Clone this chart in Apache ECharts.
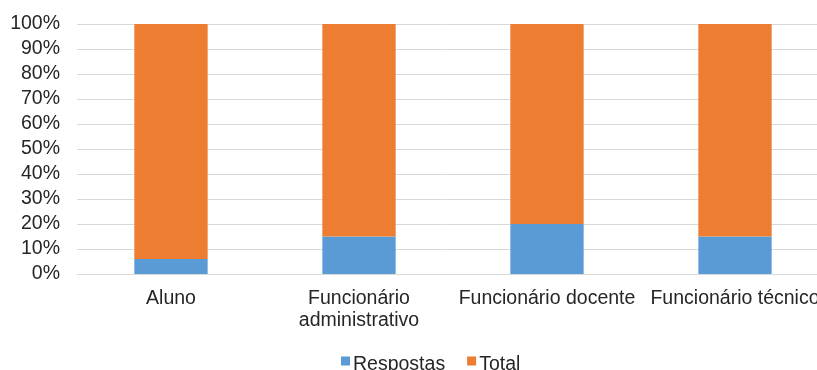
<!DOCTYPE html>
<html>
<head>
<meta charset="utf-8">
<script src="https://cdn.jsdelivr.net/npm/echarts@6/dist/echarts.min.js"></script>
<style>
  html, body { margin: 0; padding: 0; background: #ffffff; }
  #chart { width: 817px; height: 370px; }
</style>
</head>
<body>
<div id="chart"></div>
<script>
// Respondent groups and their share of answers (percent of each group's total)
const categories = ['Aluno', 'Funcionário\nadministrativo', 'Funcionário docente', 'Funcionário técnico'];
const respostas = [6, 15, 20, 15];
const total = [94, 85, 80, 85];
const yTicks = [0, 10, 20, 30, 40, 50, 60, 70, 80, 90, 100];

const chart = echarts.init(document.getElementById('chart'), null, { renderer: 'canvas' });
const font = 'Liberation Sans, Arial, sans-serif';
const textColor = '#262626';
const fontSize = 19.5;

// Square legend marker sitting in the upper part of a taller box,
// so it lines up with the middle of the capital letters.
const legendIcon = 'path://M0,0H9V9H0Z M0,17L0.01,17';

chart.setOption({
  animation: false,
  grid: {
    left: 77, top: 24, width: 752, height: 250,
    containLabel: false,
    outerBoundsMode: 'none'
  },
  legend: {
    top: 350,
    left: 336,
    itemWidth: 9,
    itemHeight: 17,
    itemGap: 22,
    icon: legendIcon,
    textStyle: { fontFamily: font, fontSize: fontSize, color: textColor, padding: [0, 0, 0, -2] },
    data: ['Respostas', 'Total']
  },
  xAxis: {
    type: 'category',
    data: categories,
    axisLine: { show: true, lineStyle: { color: '#d9d9d9' } },
    axisTick: { show: false },
    axisLabel: {
      interval: 0,
      margin: 14,
      fontFamily: font,
      fontSize: fontSize,
      color: textColor,
      lineHeight: 22
    }
  },
  yAxis: {
    type: 'value',
    min: yTicks[0],
    max: yTicks[yTicks.length - 1],
    interval: 10,
    axisLine: { show: false },
    axisTick: { show: false },
    splitLine: { lineStyle: { color: '#d9d9d9', width: 1 } },
    axisLabel: {
      margin: 17,
      fontFamily: font,
      fontSize: fontSize,
      color: textColor,
      formatter: v => v + '%'
    }
  },
  series: [
    {
      name: 'Respostas',
      type: 'bar',
      stack: 'all',
      barWidth: '39%',
      itemStyle: { color: '#5B9BD5' },
      data: respostas
    },
    {
      name: 'Total',
      type: 'bar',
      stack: 'all',
      barWidth: '39%',
      itemStyle: { color: '#ED7D31' },
      data: total
    }
  ]
});
</script>
</body>
</html>
